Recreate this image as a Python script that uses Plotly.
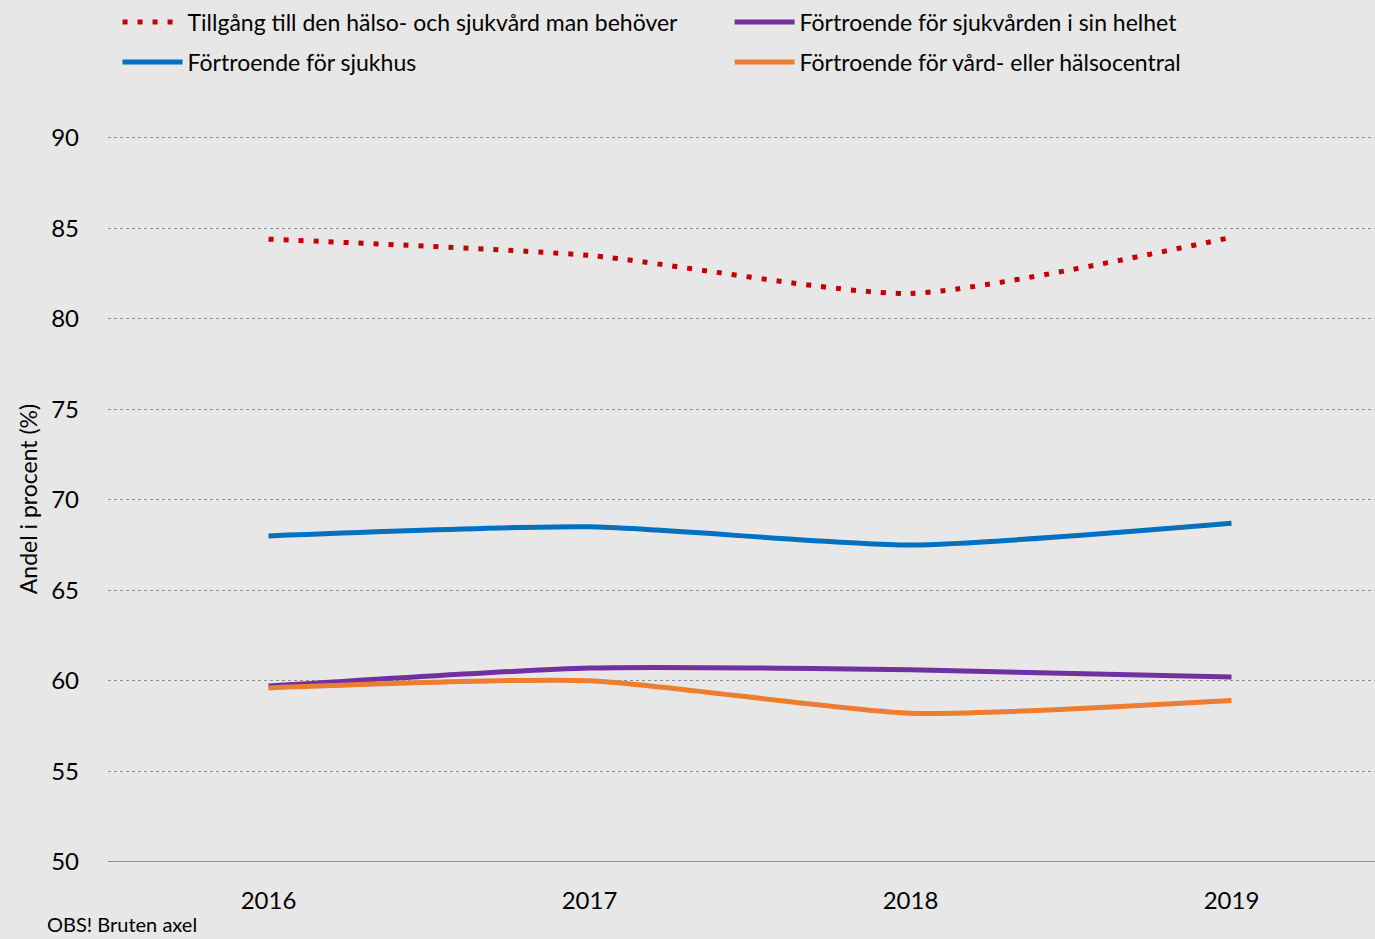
import plotly.graph_objects as go

# Data
years = ['2016', '2017', '2018', '2019']
tillgang = [84.4, 83.5, 81.4, 84.5]
sjukvarden = [59.7, 60.7, 60.6, 60.2]
sjukhus = [68.0, 68.5, 67.5, 68.7]
vardcentral = [59.6, 60.0, 58.2, 58.9]

series = [
    ('Tillgång till den hälso- och sjukvård man behöver', tillgang, '#C00000', 'dot', 'legend'),
    ('Förtroende för sjukvården i sin helhet', sjukvarden, '#7030A0', 'solid', 'legend'),
    ('Förtroende för sjukhus', sjukhus, '#0070C0', 'solid', 'legend2'),
    ('Förtroende för vård- eller hälsocentral', vardcentral, '#ED7D31', 'solid', 'legend2'),
]

font = 'Lato, "Open Sans", sans-serif'

fig = go.Figure()
for name, vals, color, dash, leg in series:
    fig.add_trace(go.Scatter(
        x=years, y=vals, name=name, mode='lines', legend=leg,
        line=dict(color=color, width=5, dash='5px,10px' if dash == 'dot' else dash,
                  shape='spline', smoothing=0.6),
    ))

legend_style = dict(orientation='h', xref='container', yref='container', x=0.0855,
                    xanchor='left', yanchor='middle', entrywidth=537,
                    entrywidthmode='pixels', font=dict(size=23), itemwidth=60,
                    bgcolor='rgba(0,0,0,0)')

fig.update_layout(
    width=1375, height=939,
    paper_bgcolor='#E7E7E7', plot_bgcolor='#E7E7E7',
    font=dict(family=font, size=22, color='#000'),
    margin=dict(l=108, r=0, t=136, b=77),
    legend=dict(legend_style, y=1 - 22 / 939),
    legend2=dict(legend_style, y=1 - 62 / 939),
    showlegend=True,
)

fig.update_xaxes(range=[-0.5, 3.447], showgrid=False, ticks='', showline=False,
                 tickfont=dict(size=24), ticklabelstandoff=22, zeroline=False)
fig.update_yaxes(range=[49.98, 90.1], tickvals=[50, 55, 60, 65, 70, 75, 80, 85, 90],
                 showgrid=True, gridcolor='#8C8C8C',
                 griddash='dot', gridwidth=1, zeroline=False, showline=False,
                 tickfont=dict(size=24), ticklabelstandoff=28,
                 title=dict(text='Andel i procent (%)', font=dict(size=23), standoff=7))

# solid baseline at the bottom of the broken axis
fig.add_hline(y=50, line=dict(color='#8C8C8C', width=1.5))

fig.add_annotation(text='OBS! Bruten axel', xref='paper', yref='paper', x=-0.05, y=-0.105,
                   xanchor='left', yanchor='bottom', showarrow=False, font=dict(size=20))

fig.write_html('out.html', config={'displayModeBar': False},
               post_script="document.body.style.margin='0';")
